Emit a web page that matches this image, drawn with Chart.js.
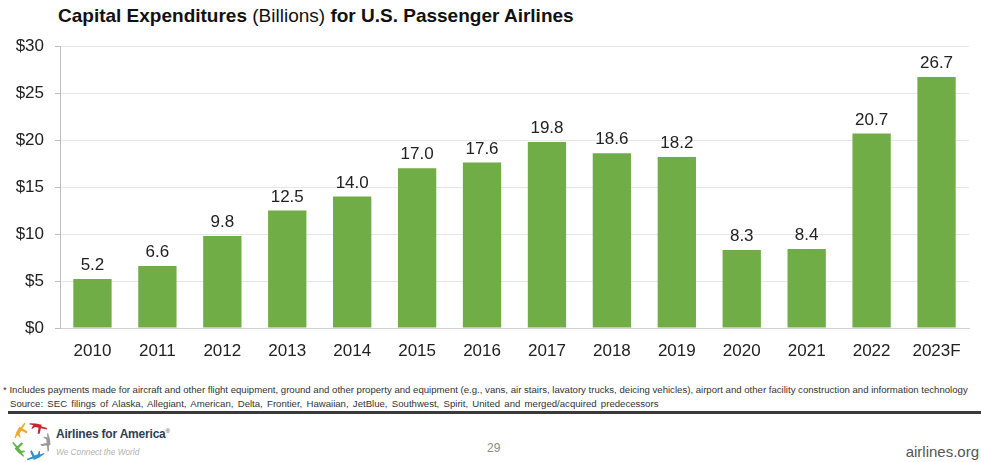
<!DOCTYPE html>
<html>
<head>
<meta charset="utf-8">
<script src="https://cdn.jsdelivr.net/npm/chart.js@4.4.0/dist/chart.umd.min.js"></script>
<style>
  html, body { margin: 0; padding: 0; background: #fff; }
  body { width: 981px; height: 462px; position: relative; overflow: hidden; font-family: "Liberation Sans", Arial, sans-serif; }
  #wrap { position: absolute; left: 0; top: 0; width: 981px; height: 372px; }
  .title { position: absolute; left: 58px; top: 5px; font-size: 19px; color: #111; white-space: nowrap; }
  .title b { font-weight: bold; }
  .note { position: absolute; left: 3px; font-size: 9.6px; color: #333; white-space: nowrap; }
  .rule { position: absolute; left: 8px; right: 0; top: 411px; height: 3px; background: #3a3a3a; }
  .brand { position: absolute; left: 56px; top: 427px; font-size: 12px; font-weight: bold; color: #2f3d52; white-space: nowrap; letter-spacing: -0.2px; }
  .brand sup { font-size: 6px; font-weight: normal; }
  .tag { position: absolute; left: 56px; top: 447px; font-size: 8.3px; font-style: italic; color: #b3b3b3; white-space: nowrap; }
  .page { position: absolute; left: 487px; top: 441px; font-size: 12px; color: #8a8a8a; }
  .site { position: absolute; right: 2px; top: 443px; font-size: 15px; color: #555; }
  #logo { position: absolute; left: 11px; top: 420px; }
</style>
</head>
<body>
<div class="title"><b>Capital Expenditures</b> (Billions) <b>for U.S. Passenger Airlines</b></div>
<div id="wrap"><canvas id="chart"></canvas></div>
<div class="note" style="top:384px">* Includes payments made for aircraft and other flight equipment, ground and other property and equipment (e.g., vans, air stairs, lavatory trucks, deicing vehicles), airport and other facility construction and information technology</div>
<div class="note" style="top:398px;left:10px;word-spacing:1.6px">Source: SEC filings of Alaska, Allegiant, American, Delta, Frontier, Hawaiian, JetBlue, Southwest, Spirit, United and merged/acquired predecessors</div>
<div class="rule"></div>
<svg id="logo" width="42" height="42" viewBox="-21 -21 42 42">
  <defs>
    <path id="plane" d="M0,-3 L1.6,-3 L2.2,-9 L3.6,-9 L3.6,-3 L9,-3 L10,-1 L3.6,-0.6 L3.6,3 L6,5 L6,6.2 L2.4,5 L2.2,9 L1.2,9 L0,3 Z" />
  </defs>
  <use href="#plane" fill="#f0a92c" transform="rotate(-60) translate(3,-18) rotate(90)"/>
  <use href="#plane" fill="#c8262f" transform="rotate(12) translate(3,-18) rotate(90)"/>
  <use href="#plane" fill="#9a9a9a" transform="rotate(84) translate(3,-18) rotate(90)"/>
  <use href="#plane" fill="#2f95d2" transform="rotate(156) translate(3,-18) rotate(90)"/>
  <use href="#plane" fill="#63b245" transform="rotate(228) translate(3,-18) rotate(90)"/>
</svg>
<div class="brand">Airlines for America<sup>®</sup></div>
<div class="tag">We Connect the World</div>
<div class="page">29</div>
<div class="site">airlines.org</div>

<script>
const years = ['2010', '2011', '2012', '2013', '2014', '2015', '2016', '2017', '2018', '2019', '2020', '2021', '2022', '2023F'];
const capex = [5.2, 6.6, 9.8, 12.5, 14.0, 17.0, 17.6, 19.8, 18.6, 18.2, 8.3, 8.4, 20.7, 26.7];
const yTicks = [0, 5, 10, 15, 20, 25, 30];

const font = "'Liberation Sans', Arial, sans-serif";

// value labels above every bar
const barLabels = {
  id: 'barLabels',
  afterDatasetsDraw(chart) {
    const ctx = chart.ctx;
    const meta = chart.getDatasetMeta(0);
    ctx.save();
    ctx.font = '17px ' + font;
    ctx.fillStyle = '#222';
    ctx.textAlign = 'center';
    ctx.textBaseline = 'bottom';
    meta.data.forEach((bar, i) => {
      ctx.fillText(capex[i].toFixed(1), bar.x, bar.y - 5);
    });
    ctx.restore();
  }
};

new Chart(document.getElementById('chart'), {
  type: 'bar',
  data: {
    labels: years,
    datasets: [{
      data: capex,
      backgroundColor: '#70ad47',
      barPercentage: 0.59,
      categoryPercentage: 1.0,
    }],
  },
  options: {
    responsive: true,
    maintainAspectRatio: false,
    animation: false,
    layout: { padding: { top: 46, right: 12, bottom: 0, left: 0 } },
    plugins: {
      legend: { display: false },
      tooltip: { enabled: false },
    },
    scales: {
      x: {
        grid: { display: false, drawTicks: false },
        border: { color: '#d0d0d0' },
        ticks: { color: '#222', font: { family: font, size: 17 }, padding: 13 },
        afterFit(scale) { scale.height = 44; },
      },
      y: {
        min: 0,
        max: 30,
        afterBuildTicks(scale) { scale.ticks = yTicks.map(v => ({ value: v })); },
        grid: { color: '#e6e6e6', tickLength: 5, tickColor: '#bfbfbf' },
        border: { color: '#bfbfbf' },
        ticks: {
          color: '#222',
          font: { family: font, size: 17 },
          padding: 11,
          callback: v => '$' + v,
        },
        afterFit(scale) { scale.width = 60; },
      },
    },
  },
  plugins: [barLabels],
});
</script>
</body>
</html>
